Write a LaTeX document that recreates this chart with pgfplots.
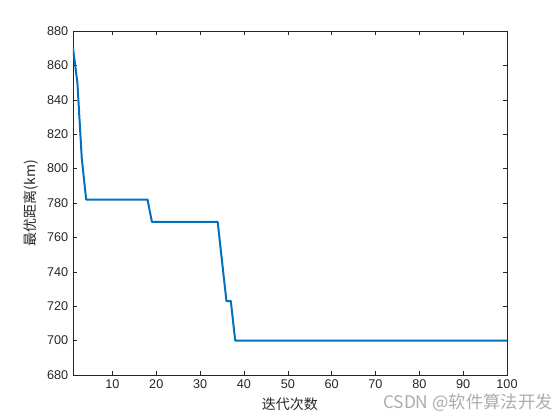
\documentclass[border=0pt]{standalone}
\usepackage{pgfplots}
\pgfplotsset{compat=1.18}
\usepackage{fontspec}
\setmainfont{Liberation Sans}
\newfontfamily\cjk{Noto Sans CJK SC}
\definecolor{mblue}{rgb}{0,0.447,0.741}

\begin{document}
\begin{tikzpicture}[x=1pt,y=1pt]
\path[use as bounding box] (0,0) rectangle (420,315);
\begin{axis}[
    at={(54.75pt,33.75pt)}, anchor=south west,
    scale only axis, width=325.5pt, height=258pt,
    xmin=1, xmax=100, ymin=680, ymax=880,
    xtick={10,20,...,100}, ytick={680,700,...,880},
    tick align=inside, major tick length=3pt,
    tick style={black!85, line width=0.4pt},
    axis line style={black!85, line width=0.5pt},
    ticklabel style={font=\fontsize{9.5}{11}\selectfont, text=black!85},
    /pgf/number format/assume math mode=true,
    /pgf/number format/1000 sep={},
    xlabel={\cjk 迭代次数}, ylabel={\cjk 最优距离(km)},
    label style={font=\fontsize{10.5}{12}\selectfont, text=black!85},
]
\addplot[mblue, line width=1.5pt, line join=round] coordinates {
    (1,870) (2,850) (3,806) (4,782) (18,782) (19,769) (34,769)
    (35,746) (36,723) (37,723) (38,700) (100,700)
};
\end{axis}
\node[anchor=south east, text=gray!65, font=\fontsize{13}{15}\selectfont, inner sep=0pt] at (414.75,6) {\cjk CSDN @软件算法开发};
\end{tikzpicture}
\end{document}
